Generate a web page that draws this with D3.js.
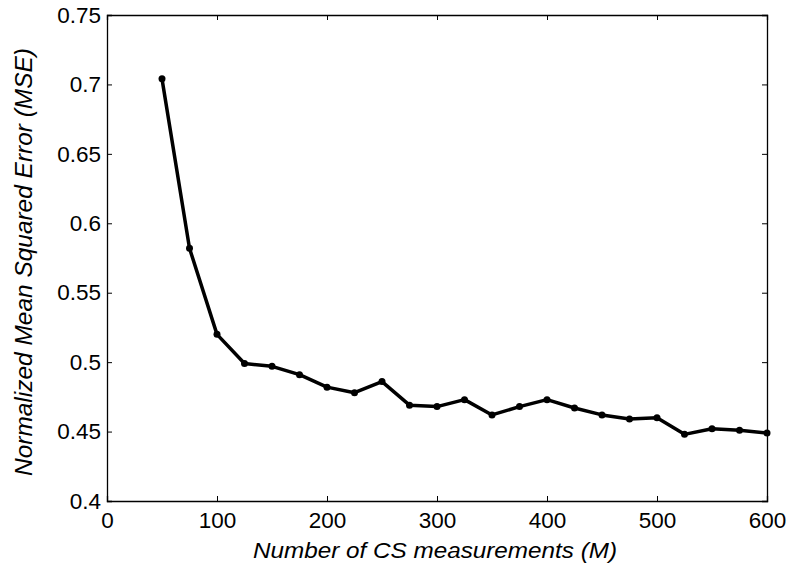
<!DOCTYPE html>
<html lang="en">
<head>
    <meta charset="UTF-8">
    <title>MSE vs CS measurements</title>
    <style>
        body { margin: 0; background: #fff; }
        text { font-family: "Liberation Sans", Arial, sans-serif; fill: #000; }
    </style>
</head>
<body>
<script src="https://d3js.org/d3.v7.min.js"></script>
<script>
    const mValues = [50, 75, 100, 125, 150, 175, 200, 225, 250, 275, 300, 325, 350,
        375, 400, 425, 450, 475, 500, 525, 550, 575, 600];
    const mseValues = [0.704, 0.582, 0.520, 0.499, 0.497, 0.491, 0.482, 0.478, 0.486,
        0.469, 0.468, 0.473, 0.462, 0.468, 0.473, 0.467, 0.462, 0.459, 0.460,
        0.448, 0.452, 0.451, 0.449];
    const xTicks = [0, 100, 200, 300, 400, 500, 600];
    const yTicks = [0.4, 0.45, 0.5, 0.55, 0.6, 0.65, 0.7, 0.75];

    const data = mValues.map((m, i) => ({x: m, y: mseValues[i]}));

    const width = 790, height = 570;
    const margin = {left: 107, right: 23, top: 15, bottom: 69};
    const w = width - margin.left - margin.right;
    const h = height - margin.top - margin.bottom;

    const svg = d3.select("body").append("svg")
        .attr("width", width)
        .attr("height", height);

    const g = svg.append("g")
        .attr("transform", `translate(${margin.left},${margin.top})`);

    const x = d3.scaleLinear().domain([0, 600]).range([0, w]);
    const y = d3.scaleLinear().domain([0.4, 0.75]).range([h, 0]);

    const fmt = d => String(+d.toFixed(2));

    // ticks point inwards on all four sides, labels only bottom/left
    g.append("g")
        .attr("transform", `translate(0,${h})`)
        .call(d3.axisBottom(x).tickValues(xTicks).tickSize(-5).tickPadding(11).tickFormat(d => d));
    g.append("g")
        .call(d3.axisTop(x).tickValues(xTicks).tickSize(-5).tickFormat(""));

    g.append("g")
        .call(d3.axisLeft(y).tickValues(yTicks).tickSize(-5).tickPadding(6).tickFormat(fmt));
    g.append("g")
        .attr("transform", `translate(${w},0)`)
        .call(d3.axisRight(y).tickValues(yTicks).tickSize(-5).tickFormat(""));

    g.selectAll(".domain").attr("stroke", "#000").attr("stroke-width", 1.3);
    g.selectAll(".tick line").attr("stroke", "#000");
    g.selectAll(".tick text")
        .style("font-size", "22.5px")
        .style("font-family", "'Liberation Sans', Arial, sans-serif");

    g.append("path")
        .datum(data)
        .attr("fill", "none")
        .attr("stroke", "#000")
        .attr("stroke-width", 3.5)
        .attr("stroke-linejoin", "round")
        .attr("d", d3.line().x(d => x(d.x)).y(d => y(d.y)));

    g.selectAll(".dot")
        .data(data)
        .enter()
        .append("circle")
        .attr("class", "dot")
        .attr("cx", d => x(d.x))
        .attr("cy", d => y(d.y))
        .attr("r", 3.5)
        .attr("fill", "#000");

    svg.append("text")
        .attr("x", 435)
        .attr("y", 558)
        .attr("text-anchor", "middle")
        .attr("textLength", 364)
        .attr("lengthAdjust", "spacingAndGlyphs")
        .style("font-size", "22px")
        .style("font-style", "italic")
        .text("Number of CS measurements (M)");

    svg.append("text")
        .attr("transform", "translate(32,262) rotate(-90)")
        .attr("text-anchor", "middle")
        .attr("textLength", 428)
        .attr("lengthAdjust", "spacingAndGlyphs")
        .style("font-size", "23px")
        .style("font-style", "italic")
        .text("Normalized Mean Squared Error (MSE)");
</script>
</body>
</html>
